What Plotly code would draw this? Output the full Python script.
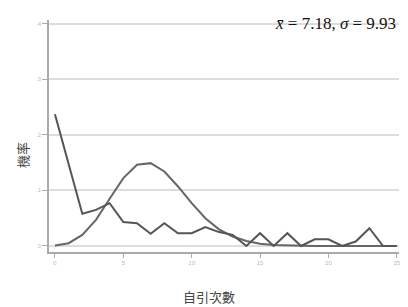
import plotly.graph_objects as go

citations = list(range(0, 26))
observed = [0.237, 0.148, 0.058, 0.065, 0.077, 0.043, 0.041, 0.022, 0.041, 0.023,
            0.023, 0.034, 0.025, 0.020, 0.0, 0.023, 0.0, 0.023, 0.0, 0.012,
            0.012, 0.0, 0.008, 0.032, 0.0, 0.0]
poisson = [0.001, 0.005, 0.020, 0.047, 0.085, 0.122, 0.146, 0.149, 0.134, 0.107,
           0.077, 0.050, 0.030, 0.017, 0.009, 0.004, 0.002, 0.001, 0.0, 0.0,
           0.0, 0.0, 0.0, 0.0, 0.0, 0.0]
x_ticks = [0, 5, 10, 15, 20, 25]
y_ticks = [0, 0.1, 0.2, 0.3, 0.4]
y_tick_labels = ["0", ".1", ".2", ".3", ".4"]

fig = go.Figure()
fig.add_trace(go.Scatter(x=citations, y=poisson, mode="lines",
                         line=dict(color="#666666", width=2), showlegend=False))
fig.add_trace(go.Scatter(x=citations, y=observed, mode="lines",
                         line=dict(color="#555555", width=2), showlegend=False))

fig.update_layout(
    width=408, height=307,
    margin=dict(l=49, r=7, t=20, b=55),
    paper_bgcolor="white", plot_bgcolor="white",
    xaxis=dict(range=[-0.436, 25.164], tickvals=x_ticks, showgrid=False,
               zeroline=False, showline=True, linecolor="#aaaaaa", linewidth=1.5,
               ticks="outside", ticklen=4, tickcolor="#aaaaaa",
               tickfont=dict(size=6, color="#bbbbbb", family="Liberation Sans")),
    yaxis=dict(range=[-0.0108, 0.4064], tickvals=y_ticks, ticktext=y_tick_labels,
               showgrid=True, gridcolor="#dddddd", gridwidth=1.5,
               zeroline=False, showline=True, linecolor="#aaaaaa", linewidth=1.5,
               ticks="outside", ticklen=5, tickcolor="#aaaaaa",
               tickfont=dict(size=6, color="#bbbbbb", family="Liberation Sans")),
    annotations=[
        dict(text="<i>x̄</i> = 7.18, <i>σ</i> = 9.93", xref="paper", yref="paper",
             x=0.997, y=0.985, xanchor="right", yanchor="middle", showarrow=False,
             font=dict(family="Liberation Serif", size=17, color="#111111")),
        dict(text="自引次數", xref="paper", yref="paper", x=0.457, y=-0.19,
             xanchor="center", yanchor="middle", showarrow=False,
             font=dict(family="Noto Sans CJK TC", size=13, color="#444444")),
        dict(text="機率", xref="paper", yref="paper", x=-0.077, y=0.418,
             xanchor="center", yanchor="middle", showarrow=False, textangle=-90,
             font=dict(family="Noto Sans CJK TC", size=13, color="#444444")),
    ],
)

fig.write_html("out.html", config={"displayModeBar": False},
               post_script="document.body.style.margin='0';document.body.style.padding='0';")
